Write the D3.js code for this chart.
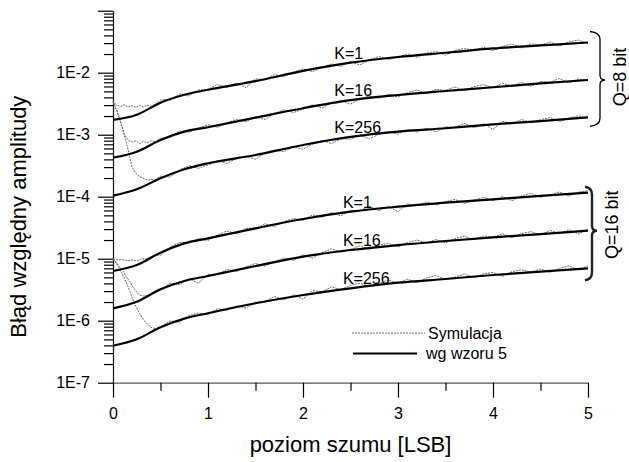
<!DOCTYPE html>
<html>
<head>
<meta charset="utf-8">
<script src="https://cdn.jsdelivr.net/npm/d3@7"></script>
<style>
  body { margin: 0; background: #fff; }
  svg text { font-family: "Liberation Sans", Arial, sans-serif; fill: #000; }
</style>
</head>
<body>
<div id="wykres"></div>
<script>
// dane
const teoriaX = [0, 0.25, 0.5, 0.75, 1, 1.5, 2, 2.5, 3, 3.5, 4, 4.5, 5]
const teoriaQ8K1 = [1.73e-3, 2.1e-3, 3.28e-3, 4.4e-3, 5.3e-3, 7.3e-3, 1.07e-2, 1.45e-2, 1.79e-2, 2.1e-2, 2.46e-2, 2.75e-2, 3.07e-2]
const teoriaQ8K16 = [4.26e-4, 5.32e-4, 8.22e-4, 1.12e-3, 1.32e-3, 1.88e-3, 2.67e-3, 3.6e-3, 4.37e-3, 5.07e-3, 5.82e-3, 6.75e-3, 7.62e-3]
const teoriaQ8K256 = [1.04e-4, 1.32e-4, 1.98e-4, 2.77e-4, 3.46e-4, 4.71e-4, 6.82e-4, 9.2e-4, 1.12e-3, 1.27e-3, 1.47e-3, 1.66e-3, 1.91e-3]
const teoriaQ16K1 = [6.33e-6, 7.91e-6, 1.25e-5, 1.77e-5, 2.13e-5, 3.09e-5, 4.37e-5, 5.73e-5, 6.9e-5, 8.0e-5, 9.08e-5, 1.03e-4, 1.16e-4]
const teoriaQ16K16 = [1.58e-6, 2.02e-6, 3.21e-6, 4.37e-6, 5.26e-6, 7.62e-6, 1.08e-5, 1.38e-5, 1.66e-5, 1.93e-5, 2.21e-5, 2.5e-5, 2.83e-5]
const teoriaQ16K256 = [3.95e-7, 5.01e-7, 7.83e-7, 1.08e-6, 1.32e-6, 1.91e-6, 2.6e-6, 3.33e-6, 4.1e-6, 4.71e-6, 5.46e-6, 6.17e-6, 7.0e-6]

// symulacja: poczatek (x, wartosc) i dalsza czesc dla symX
const symX = [0.5, 0.6, 0.7, 0.8, 0.9, 1.0, 1.1, 1.2, 1.3, 1.4, 1.5, 1.6, 1.7, 1.8, 1.9, 2.0,
  2.1, 2.2, 2.3, 2.4, 2.5, 2.6, 2.7, 2.8, 2.9, 3.0, 3.1, 3.2, 3.3, 3.4, 3.5, 3.6, 3.7, 3.8,
  3.9, 4.0, 4.1, 4.2, 4.3, 4.4, 4.5, 4.6, 4.7, 4.8, 4.9, 5.0]

const symQ8K1Start = [[0, 3.4e-3], [0.04, 3.0e-3], [0.08, 2.85e-3], [0.12, 3.05e-3], [0.16, 2.8e-3], [0.2, 2.95e-3],
  [0.24, 2.75e-3], [0.28, 3.0e-3], [0.32, 2.8e-3], [0.36, 3.0e-3], [0.4, 2.85e-3], [0.45, 3.15e-3]]
const symQ8K1 = [3.64e-3, 3.61e-3, 4.59e-3, 4.22e-3, 5.26e-3, 5.37e-3, 6.47e-3, 5.71e-3, 6.86e-3, 5.73e-3,
  7.97e-3, 7.74e-3, 9.36e-3, 8.67e-3, 1.027e-2, 1.15e-2, 1.04e-2, 1.22e-2, 1.39e-2, 1.26e-2, 1.51e-2,
  1.33e-2, 1.63e-2, 1.82e-2, 1.62e-2, 1.78e-2, 2.02e-2, 1.77e-2, 2.07e-2, 2.19e-2, 1.91e-2, 2.29e-2,
  2.47e-2, 2.26e-2, 2.56e-2, 2.27e-2, 2.65e-2, 2.90e-2, 2.52e-2, 2.92e-2, 2.79e-2, 3.13e-2, 2.70e-2,
  3.14e-2, 3.35e-2, 2.98e-2]

const symQ8K16Start = [[0, 3.4e-3], [0.04, 2.4e-3], [0.08, 1.6e-3], [0.12, 1.0e-3], [0.16, 8.2e-4], [0.2, 7.6e-4],
  [0.24, 8.0e-4], [0.28, 7.2e-4], [0.32, 7.8e-4], [0.36, 7.4e-4], [0.4, 8.0e-4], [0.45, 7.7e-4]]
const symQ8K16 = [8.77e-4, 9.06e-4, 1.15e-3, 1.10e-3, 1.29e-3, 1.45e-3, 1.31e-3, 1.56e-3, 1.76e-3, 1.62e-3,
  1.95e-3, 1.76e-3, 2.19e-3, 2.52e-3, 2.28e-3, 2.58e-3, 3.03e-3, 2.70e-3, 3.25e-3, 3.52e-3, 3.12e-3,
  3.82e-3, 4.19e-3, 3.88e-3, 4.50e-3, 4.05e-3, 4.75e-3, 5.27e-3, 4.60e-3, 5.39e-3, 5.18e-3, 5.89e-3,
  5.10e-3, 5.96e-3, 6.43e-3, 5.72e-3, 6.81e-3, 6.02e-3, 7.01e-3, 6.03e-3, 7.21e-3, 7.00e-3, 8.06e-3,
  6.81e-3, 7.87e-3, 7.50e-3]

const symQ8K256Start = [[0, 3.4e-3], [0.04, 2.5e-3], [0.07, 1.8e-3], [0.1, 1.25e-3], [0.13, 8.5e-4], [0.16, 5.6e-4],
  [0.2, 3.0e-4], [0.24, 2.4e-4], [0.28, 2.1e-4], [0.33, 1.95e-4], [0.37, 1.85e-4], [0.41, 1.9e-4], [0.45, 1.9e-4]]
const symQ8K256 = [2.14e-4, 2.07e-4, 2.70e-4, 3.17e-4, 2.87e-4, 3.23e-4, 3.81e-4, 3.44e-4, 4.13e-4, 4.49e-4,
  4.02e-4, 5.03e-4, 5.63e-4, 5.36e-4, 6.33e-4, 5.85e-4, 7.08e-4, 8.05e-4, 7.22e-4, 8.61e-4, 8.49e-4,
  9.81e-4, 8.64e-4, 1.02e-3, 1.12e-3, 1.02e-3, 1.22e-3, 1.10e-3, 1.28e-3, 1.11e-3, 1.34e-3, 1.31e-3,
  1.52e-3, 1.29e-3, 1.50e-3, 1.22e-3, 1.64e-3, 1.51e-3, 1.76e-3, 1.56e-3, 1.76e-3, 1.89e-3, 1.63e-3,
  1.85e-3, 2.02e-3, 1.78e-3]

const symQ16K1Start = [[0, 9.8e-6], [0.05, 9.6e-6], [0.1, 9.7e-6], [0.15, 9.3e-6], [0.2, 9.5e-6], [0.25, 9.2e-6],
  [0.3, 9.8e-6], [0.35, 1.0e-5], [0.4, 1.08e-5], [0.45, 1.15e-5]]
const symQ16K1 = [1.13e-5, 1.53e-5, 1.84e-5, 1.80e-5, 2.13e-5, 1.97e-5, 2.41e-5, 2.80e-5, 2.52e-5, 3.09e-5,
  3.09e-5, 3.66e-5, 3.29e-5, 3.98e-5, 4.45e-5, 4.13e-5, 5.10e-5, 4.65e-5, 5.56e-5, 4.90e-5, 6.04e-5,
  5.97e-5, 6.97e-5, 5.94e-5, 7.00e-5, 5.73e-5, 7.66e-5, 7.17e-5, 8.27e-5, 7.37e-5, 8.37e-5, 9.04e-5,
  7.77e-5, 8.82e-5, 9.71e-5, 8.63e-5, 1.004e-4, 8.63e-5, 1.033e-4, 1.134e-4, 9.84e-5, 1.057e-4,
  1.191e-4, 1.027e-4, 1.189e-4, 1.248e-4]

const symQ16K16Start = [[0, 9.8e-6], [0.04, 8.6e-6], [0.07, 7.4e-6], [0.11, 6.2e-6], [0.14, 5.1e-6], [0.18, 4.2e-6],
  [0.21, 3.5e-6], [0.25, 2.9e-6], [0.28, 2.6e-6], [0.32, 2.5e-6], [0.36, 2.55e-6], [0.4, 2.7e-6], [0.45, 2.85e-6]]
const symQ16K16 = [3.07e-6, 4.04e-6, 3.82e-6, 4.78e-6, 4.03e-6, 5.61e-6, 5.52e-6, 6.72e-6, 6.19e-6, 7.41e-6,
  8.36e-6, 7.56e-6, 8.95e-6, 1.024e-5, 9.46e-6, 1.15e-5, 1.02e-5, 1.26e-5, 1.44e-5, 1.27e-5, 1.41e-5,
  1.61e-5, 1.42e-5, 1.66e-5, 1.77e-5, 1.54e-5, 1.83e-5, 2.00e-5, 1.80e-5, 2.04e-5, 1.80e-5, 2.12e-5,
  2.31e-5, 2.01e-5, 2.33e-5, 2.23e-5, 2.53e-5, 2.17e-5, 2.54e-5, 2.73e-5, 2.42e-5, 2.86e-5, 2.53e-5,
  2.93e-5, 2.50e-5, 3.01e-5]

const symQ16K256Start = [[0, 9.8e-6], [0.03, 8.6e-6], [0.06, 7.3e-6], [0.09, 6.0e-6], [0.12, 4.8e-6], [0.15, 3.8e-6],
  [0.18, 2.9e-6], [0.21, 2.2e-6], [0.24, 1.7e-6], [0.28, 1.3e-6], [0.32, 1.05e-6], [0.36, 8.8e-7], [0.4, 7.8e-7],
  [0.45, 7.4e-7]]
const symQ16K256 = [7.9e-7, 9.89e-7, 9.53e-7, 1.21e-6, 1.33e-6, 1.25e-6, 1.56e-6, 1.46e-6, 1.75e-6, 1.60e-6,
  1.99e-6, 2.05e-6, 2.46e-6, 2.16e-6, 2.61e-6, 2.23e-6, 3.07e-6, 2.92e-6, 3.51e-6, 3.17e-6, 3.71e-6,
  4.03e-6, 3.55e-6, 4.06e-6, 4.52e-6, 4.04e-6, 4.69e-6, 4.10e-6, 4.85e-6, 5.36e-6, 4.65e-6, 5.05e-6,
  5.67e-6, 4.90e-6, 5.72e-6, 6.00e-6, 5.18e-6, 6.17e-6, 6.65e-6, 6.05e-6, 6.84e-6, 6.03e-6, 6.99e-6,
  7.66e-6, 6.59e-6, 7.67e-6]

const etykietyK = ['K=1', 'K=16', 'K=256']
const etykietyQ = ['Q=8 bit', 'Q=16 bit']
const xTicki = [0, 1, 2, 3, 4, 5]
const yTicki = [1e-7, 1e-6, 1e-5, 1e-4, 1e-3, 1e-2, 1e-1]

// konfiguracja svg
const szer = 629, wys = 462
const svg = d3.select('#wykres').append('svg')
  .attr('width', szer)
  .attr('height', wys)

const x = d3.scaleLinear().domain([0, 5]).range([113, 588])
const y = d3.scaleLog().domain([1e-7, 1e-1]).range([382.7, 10.7])

// osie
const osY = svg.append('g').attr('transform', `translate(${x(0)},0)`)
osY.call(d3.axisLeft(y)
  .tickValues(yTicki)
  .tickSize(15)
  .tickSizeOuter(0)
  .tickPadding(8)
  .tickFormat(d => d === 1e-1 ? '' : '1E' + Math.round(Math.log10(d))))
const osYmin = svg.append('g').attr('transform', `translate(${x(0)},0)`)
osYmin.call(d3.axisLeft(y)
  .tickValues(y.ticks().filter(d => !yTicki.some(t => Math.abs(t - d) / t < 1e-6)))
  .tickSize(9)
  .tickSizeOuter(0)
  .tickFormat(''))
osYmin.select('.domain').remove()

const osX = svg.append('g').attr('transform', `translate(0,${y(1e-7)})`)
osX.call(d3.axisBottom(x)
  .tickValues(xTicki)
  .tickSize(15)
  .tickSizeOuter(0)
  .tickPadding(10)
  .tickFormat(d3.format('d')))
const osXmin = svg.append('g').attr('transform', `translate(0,${y(1e-7)})`)
osXmin.call(d3.axisBottom(x)
  .tickValues(d3.range(0.5, 5, 1))
  .tickSize(8)
  .tickSizeOuter(0)
  .tickFormat(''))
osXmin.select('.domain').remove()

svg.selectAll('.tick line').attr('stroke', '#000').attr('stroke-width', 1.2)
svg.selectAll('.domain').attr('stroke', '#111').attr('stroke-width', 1.2)
osX.select('.domain').attr('stroke', '#555')
svg.selectAll('.tick text')
  .style('font-family', '"Liberation Sans", Arial, sans-serif')
  .style('font-size', '16px')
  .attr('fill', '#000')

// tytuly osi
svg.append('text')
  .attr('x', (x(0) + x(5)) / 2)
  .attr('y', 452)
  .attr('text-anchor', 'middle')
  .style('font-size', '22px')
  .text('poziom szumu [LSB]')

svg.append('text')
  .attr('transform', `translate(26,${(y(1e-7) + y(1e-1)) / 2 + 20}) rotate(-90)`)
  .attr('text-anchor', 'middle')
  .style('font-size', '22px')
  .text('Błąd względny amplitudy')

// linie
const linia = d3.line()
  .x(d => x(d[0]))
  .y(d => y(d[1]))

const symulacje = [
  [symQ8K1Start, symQ8K1], [symQ8K16Start, symQ8K16], [symQ8K256Start, symQ8K256],
  [symQ16K1Start, symQ16K1], [symQ16K16Start, symQ16K16], [symQ16K256Start, symQ16K256]
]
symulacje.forEach(s => {
  const pkt = s[0].concat(symX.map((v, i) => [v, s[1][i]]))
  svg.append('path')
    .datum(pkt)
    .attr('fill', 'none')
    .attr('stroke', '#6a6a6a')
    .attr('stroke-width', 1)
    .attr('stroke-dasharray', '2,1')
    .attr('d', linia)
})

const teorie = [teoriaQ8K1, teoriaQ8K16, teoriaQ8K256, teoriaQ16K1, teoriaQ16K16, teoriaQ16K256]
const liniaGladka = d3.line()
  .x(d => x(d[0]))
  .y(d => y(d[1]))
  .curve(d3.curveMonotoneX)
teorie.forEach(t => {
  svg.append('path')
    .datum(teoriaX.map((v, i) => [v, t[i]]))
    .attr('fill', 'none')
    .attr('stroke', '#000')
    .attr('stroke-width', 2.2)
    .attr('d', liniaGladka)
})

// etykiety K
teorie.forEach((t, i) => {
  const q8 = i < 3
  svg.append('text')
    .attr('x', x(q8 ? 2.33 : 2.42))
    .attr('y', y(t[7]) - 4)
    .style('font-size', '16px')
    .text(etykietyK[i % 3])
})

// klamry Q
function klamra(x0, yT, yM, yB, w) {
  return `M${x0 - w},${yT} Q${x0},${yT + 1} ${x0},${yT + 8} L${x0},${yM - 5} ` +
    `Q${x0},${yM} ${x0 + 5},${yM} Q${x0},${yM} ${x0},${yM + 5} L${x0},${yB - 8} Q${x0},${yB - 1} ${x0 - w},${yB}`
}
svg.append('path')
  .attr('d', klamra(x(5) + 12, y(teoriaQ8K1[12]) - 11, y(teoriaQ8K16[12]), y(teoriaQ8K256[12]) + 9, 10))
  .attr('fill', 'none').attr('stroke', '#000').attr('stroke-width', 1.3)
svg.append('path')
  .attr('d', klamra(x(5) + 4, y(teoriaQ16K1[12]) - 6, y(teoriaQ16K16[12]), y(teoriaQ16K256[12]) + 12, 7))
  .attr('fill', 'none').attr('stroke', '#222').attr('stroke-width', 2.4)

svg.append('text')
  .attr('transform', `translate(${x(5) + 38},${y(teoriaQ8K16[12]) - 3}) rotate(-90)`)
  .attr('text-anchor', 'middle')
  .style('font-size', '18px')
  .text(etykietyQ[0])
svg.append('text')
  .attr('transform', `translate(${x(5) + 30},${y(teoriaQ16K16[12]) - 6}) rotate(-90)`)
  .attr('text-anchor', 'middle')
  .style('font-size', '18px')
  .text(etykietyQ[1])

// legenda
const leg = svg.append('g').attr('transform', 'translate(352,333)')
leg.append('line')
  .attr('x1', 0).attr('x2', 73).attr('y1', 0).attr('y2', 0)
  .attr('stroke', '#6a6a6a').attr('stroke-width', 1).attr('stroke-dasharray', '2,1')
leg.append('text').attr('x', 76).attr('y', 5.5).style('font-size', '16px').text('Symulacja')
leg.append('line')
  .attr('x1', 1).attr('x2', 65).attr('y1', 20.5).attr('y2', 20.5)
  .attr('stroke', '#000').attr('stroke-width', 2.2)
leg.append('text').attr('x', 74).attr('y', 25.5).style('font-size', '16px').text('wg wzoru 5')
</script>
</body>
</html>
